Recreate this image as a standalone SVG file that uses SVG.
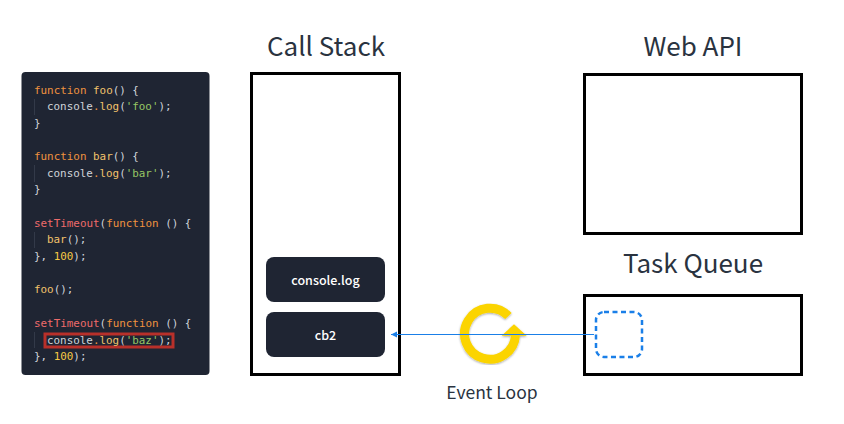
<svg xmlns="http://www.w3.org/2000/svg" width="844" height="424" viewBox="0 0 844 424">
<style>
text{font-family:"Noto Sans CJK KR","Noto Sans",sans-serif}
.title{font-size:26px;fill:#2a3340;text-anchor:middle}
.box{fill:#fff;stroke:#000;stroke-width:3}
.frame{fill:#1f2533}
.lbl{font-size:12.500px;font-weight:500;fill:#fff;text-anchor:middle}
.code{font-family:"DejaVu Sans Mono","Liberation Mono",monospace;font-size:10.900px;fill:#d0d4da;white-space:pre}
.k{fill:#f0933f}.f{fill:#f2c36b}.r{fill:#ee6b6b}.s{fill:#97c765}.n{fill:#f6c944}
.guide{stroke:#333a49;stroke-width:1}
</style>
<defs>
<marker id="ah" markerWidth="8" markerHeight="8" refX="6" refY="3" orient="auto" markerUnits="userSpaceOnUse"><path d="M0 0L6 3L0 6z" fill="#1a7fe8"/></marker>
<filter id="sh" x="-10%" y="-10%" width="120%" height="120%"><feDropShadow dx="0" dy="1" stdDeviation="0.800" flood-color="#000" flood-opacity="0.350"/></filter>
</defs>
<g id="code-panel">
<rect x="21.500" y="72" width="188" height="303" rx="4" fill="#1f2533"/>
<path class="guide" d="M34.500 99V115M34.500 165V182M34.500 232V248M34.500 332V348"/>
<rect x="45" y="334" width="128" height="13" fill="none" stroke="#b8302a" stroke-width="3"/>
<text class="code" x="34" y="94"><tspan class="k">function</tspan> <tspan class="f">foo</tspan>() {</text>
<text class="code" x="47" y="110">console<tspan class="k">.</tspan><tspan class="f">log</tspan>(<tspan class="s">'foo'</tspan>);</text>
<text class="code" x="34" y="127">}</text>
<text class="code" x="34" y="160"><tspan class="k">function</tspan> <tspan class="f">bar</tspan>() {</text>
<text class="code" x="47" y="177">console<tspan class="k">.</tspan><tspan class="f">log</tspan>(<tspan class="s">'bar'</tspan>);</text>
<text class="code" x="34" y="193">}</text>
<text class="code" x="34" y="227"><tspan class="r">setTimeout</tspan>(<tspan class="k">function</tspan> () {</text>
<text class="code" x="47" y="243"><tspan class="f">bar</tspan>();</text>
<text class="code" x="34" y="260">}, <tspan class="n">100</tspan>);</text>
<text class="code" x="34" y="293"><tspan class="f">foo</tspan>();</text>
<text class="code" x="34" y="327"><tspan class="r">setTimeout</tspan>(<tspan class="k">function</tspan> () {</text>
<text class="code" x="47" y="344">console<tspan class="k">.</tspan><tspan class="f">log</tspan>(<tspan class="s">'baz'</tspan>);</text>
<text class="code" x="34" y="360">}, <tspan class="n">100</tspan>);</text>
</g>
<g id="call-stack">
<text class="title" x="326" y="56">Call Stack</text>
<rect class="box" x="251.500" y="73.500" width="148" height="301"/>
</g>
<g id="web-api">
<text class="title" x="693" y="56">Web API</text>
<rect class="box" x="584.500" y="74.500" width="217" height="159"/>
</g>
<g id="task-queue">
<text class="title" x="693" y="273">Task Queue</text>
<rect class="box" x="584.500" y="295.500" width="217" height="79"/>
</g>
<g id="console-log">
<rect class="frame" x="266" y="257" width="119" height="45" rx="8"/>
<text class="lbl" x="325.500" y="285">console.log</text>
</g>
<g id="cb2">
<rect class="frame" x="266" y="312" width="119" height="45" rx="8"/>
<text class="lbl" x="325.500" y="340">cb2</text>
</g>
<g id="placeholder">
<rect x="596" y="312" width="46" height="45" rx="8" fill="none" stroke="#1a7fe8" stroke-width="2.500" stroke-dasharray="5 3.500"/>
</g>
<g id="event-loop">
<g filter="url(#sh)">
<path d="M508.400 316A25.500 25.500 0 1 0 515.500 335" fill="none" stroke="#fbd400" stroke-width="9"/>
<path d="M501.700 335.700L514 324.300L526.700 335.700z" fill="#fbd400"/>
</g>
<text x="492" y="399" font-size="17.500" fill="#2a3340" text-anchor="middle">Event Loop</text>
</g>
<g id="connectors">
<path d="M594 334.500H391" fill="none" stroke="#1a7fe8" stroke-width="1" marker-end="url(#ah)"/>
</g>
</svg>
